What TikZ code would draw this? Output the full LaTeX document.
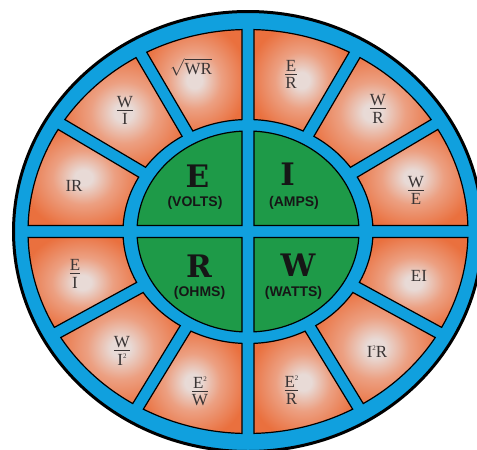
\documentclass[tikz,border=0pt]{standalone}
\usepackage{fontspec}
\usepackage{amsmath}
\setmainfont{Liberation Serif}
\newfontfamily\bigfont{DejaVu Serif}
\newfontfamily\labfont{Liberation Sans}
\definecolor{ringblue}{RGB}{16,160,222}
\definecolor{chartgreen}{RGB}{30,154,72}
\definecolor{segorange}{RGB}{234,112,62}
\definecolor{segmid}{RGB}{236,160,130}
\definecolor{seglight}{RGB}{232,218,214}
\definecolor{segtextc}{RGB}{58,52,52}
\definecolor{inkc}{RGB}{22,22,22}
\pgfdeclareradialshading{segshade}{\pgfpoint{0bp}{0bp}}{color(0bp)=(seglight); color(4bp)=(seglight); color(14bp)=(segmid); color(28bp)=(segorange); color(50bp)=(segorange)}
\newcommand\fr[2]{{\renewcommand\arraystretch{0.75}\setlength\arrayrulewidth{0.7pt}\begin{tabular}{@{}c@{}}#1\\[-1.5pt]\hline\rule{0pt}{14pt}#2\end{tabular}}}
\newcommand\sq{\raisebox{0.42em}{\fontsize{7}{7}\selectfont 2}}
\begin{document}
\begin{tikzpicture}[x=1pt,y=-1pt,
  segpath/.style={draw=black, line width=1.2pt, shading=segshade},
  quad/.style={fill=chartgreen, draw=black, line width=1.2pt},
  segtext/.style={text=segtextc, font=\fontsize{17}{18}\selectfont, inner sep=0pt},
  bigletter/.style={text=inkc, font=\bigfont\bfseries\fontsize{31}{31}\selectfont, inner sep=0pt},
  unitlabel/.style={text=inkc, font=\labfont\bfseries\fontsize{14}{14}\selectfont, inner sep=0pt}]
\useasboundingbox (0,0) rectangle (477,450);
\clip (0,0) rectangle (477,450);
\fill[white] (0,0) rectangle (477,450);
% outer blue disc
\path[fill=ringblue, draw=black, line width=3pt] (248,231.5) ellipse [x radius=234.5, y radius=220];
\def\h{6}
% orange segments
\foreach \a/\b in {0/32, 32/61, 61/90, 90/119, 119/148, 148/180, 180/210, 210/240, 240/270, 270/300, 300/330, 330/360}{
  \pgfmathsetmacro\oa{\a+deg(\h/(100*sqrt((2.20*sin(\a))^2+(2.02*cos(\a))^2)))}
  \pgfmathsetmacro\ob{\b-deg(\h/(100*sqrt((2.20*sin(\b))^2+(2.02*cos(\b))^2)))}
  \pgfmathsetmacro\ia{\a+deg(\h/(100*sqrt((1.25*sin(\a))^2+(1.12*cos(\a))^2)))}
  \pgfmathsetmacro\ib{\b-deg(\h/(100*sqrt((1.25*sin(\b))^2+(1.12*cos(\b))^2)))}
  \path[segpath] plot[domain=\oa:\ob, samples=30, variable=\t] ({248+220*cos(\t)},{231.5-202*sin(\t)})
     -- plot[domain=\ib:\ia, samples=20, variable=\t] ({248+125*cos(\t)},{231.5-112*sin(\t)}) -- cycle;
}
% green quadrants
\pgfmathsetmacro\eA{asin(\h/100.5)}
\pgfmathsetmacro\eB{asin(\h/111)}
\pgfmathsetmacro\qa{\eA}\pgfmathsetmacro\qb{90-\eB}
\path[quad] plot[domain=\qa:\qb, samples=30, variable=\t] ({248+111*cos(\t)},{231.5-100.5*sin(\t)}) -- (248+\h,231.5-\h) -- cycle;
\pgfmathsetmacro\qa{90+\eB}\pgfmathsetmacro\qb{180-\eA}
\path[quad] plot[domain=\qa:\qb, samples=30, variable=\t] ({248+111*cos(\t)},{231.5-100.5*sin(\t)}) -- (248-\h,231.5-\h) -- cycle;
\pgfmathsetmacro\qa{180+\eA}\pgfmathsetmacro\qb{270-\eB}
\path[quad] plot[domain=\qa:\qb, samples=30, variable=\t] ({248+111*cos(\t)},{231.5-100.5*sin(\t)}) -- (248-\h,231.5+\h) -- cycle;
\pgfmathsetmacro\qa{270+\eB}\pgfmathsetmacro\qb{360-\eA}
\path[quad] plot[domain=\qa:\qb, samples=30, variable=\t] ({248+111*cos(\t)},{231.5-100.5*sin(\t)}) -- (248+\h,231.5+\h) -- cycle;
% centre letters
\node[bigletter] (E) at (197.5,176) {E};
\node[bigletter] (I) at (287.5,174) {I};
\node[bigletter] (R) at (199,266) {R};
\node[bigletter] (W) at (298,265) {W};
\node[unitlabel] (volts) at (195,202.5) {(VOLTS)};
\node[unitlabel] (amps) at (294,202.5) {(AMPS)};
\node[unitlabel] (ohms) at (199.5,292.5) {(OHMS)};
\node[unitlabel] (watts) at (293.5,292.5) {(WATTS)};
% segment formulas
\node[segtext] (s1) at (191,67.5) {$\sqrt{\text{WR}}$};
\node[segtext] (s2) at (291,76.5) {\fr{E}{R}};
\node[segtext] (s3) at (378,111) {\fr{W}{R}};
\node[segtext] (s4) at (416,192.5) {\fr{W}{E}};
\node[segtext] (s5) at (419,276) {EI};
\node[segtext] (s6) at (377,351.5) {I\sq R};
\node[segtext] (s7) at (291.5,392) {\fr{E\sq}{R}};
\node[segtext] (s8) at (200,393) {\fr{E\sq}{W}};
\node[segtext] (s9) at (122,353) {\fr{W}{I\sq}};
\node[segtext] (s10) at (75,276) {\fr{E}{I}};
\node[segtext] (s11) at (74,186) {IR};
\node[segtext] (s12) at (125,112.5) {\fr{W}{I}};
\end{tikzpicture}
\end{document}
